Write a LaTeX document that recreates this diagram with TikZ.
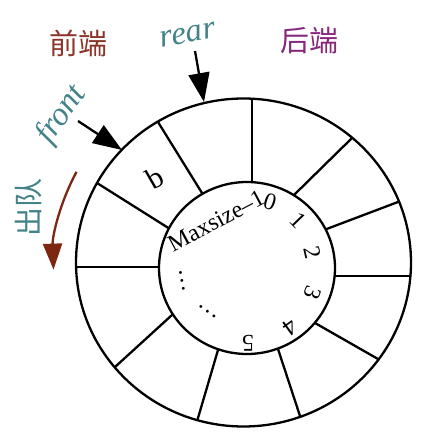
\documentclass[tikz,border=0pt]{standalone}
\usepackage{fontspec}
\setmainfont{Liberation Serif}
\newfontfamily\cjk{Noto Sans CJK SC}
\usetikzlibrary{arrows.meta,calc}
\definecolor{qbrown}{RGB}{140,52,40}
\definecolor{qpurple}{RGB}{135,40,125}
\definecolor{qteal}{RGB}{66,130,136}
\definecolor{qarc}{RGB}{125,38,18}
\tikzset{
  ring/.style={line width=2.3pt, black},
  bigtip/.style={-{Triangle[length=29pt,width=21pt]}},
  cjklabel/.style={font=\cjk\fontsize{29}{29}\selectfont, inner sep=0pt},
  itlabel/.style={font=\itshape\fontsize{33}{33}\selectfont, text=qteal, inner sep=0pt},
  idx/.style={font=\fontsize{24}{24}\selectfont, inner sep=0pt},
}
\begin{document}
\begin{tikzpicture}[x=1pt,y=1pt]
\useasboundingbox (0,0) rectangle (435,437);
\coordinate (O) at (243.5,174.5);
\coordinate (I) at (247,169);
% dividers
\begin{scope}
  \clip (O) ellipse [x radius=167.5, y radius=164];
  \foreach \p/\q in {{252,338}/{252,255}, {158,315}/{202,244}, {97,254}/{170,208},
                     {76,170}/{159,170}, {115,70}/{172,122}, {198,19}/{218,87},
                     {300,21}/{278,88}, {378,78}/{315,114}, {411,161}/{335,161},
                     {398,235}/{324,207}, {351,298}/{294,242}}
    \draw[ring] ($(\p)!-8pt!(\q)$) -- ($(\q)!-8pt!(\p)$);
\end{scope}
\filldraw[ring, fill=white] (I) ellipse [x radius=88, y radius=86];
\draw[ring] (O) ellipse [x radius=167.5, y radius=164];

% top labels
\node[cjklabel, text=qbrown] (front-end) at (78,394) {前端};
\node[cjklabel, text=qpurple] (rear-end) at (309,396) {后端};

% rear pointer
\node[itlabel, rotate=10] (rear) at (188,402) {rear};
\coordinate (rearstart) at (195,386);
\coordinate (reartip) at (204,335);
\draw[ring, bigtip] (rearstart) -- (reartip);

% front pointer
\node[itlabel, rotate=55] (front) at (62,322) {front};
\coordinate (frontstart) at (78,316);
\coordinate (fronttip) at (122,287);
\draw[ring, bigtip] (frontstart) -- (fronttip);

% dequeue arrow
\node[cjklabel, text=qteal, rotate=90] (deq) at (29,229) {出队};
\draw[line width=2.3pt, qarc, -{Triangle[length=26pt,width=19pt]}]
  ($(O)+(151.5:190)$) arc[start angle=151.5, end angle=182, radius=191];

% cell content
\node[font=\fontsize{30}{30}\selectfont, inner sep=0pt, rotate=30] (b) at (155,259) {b};

% indices
\node[idx, rotate=28] (max) at (216,216) {Maxsize–1};
\node[idx, rotate=-18] (i0) at (270,235) {0};
\node[idx, rotate=-46] (i1) at (298,217) {1};
\node[idx, rotate=-77] (i2) at (313,184) {2};
\node[idx, rotate=-111] (i3) at (313,144) {3};
\node[idx, rotate=-144] (i4) at (290,110) {4};
\node[idx, rotate=180] (i5) at (248,94) {5};
\node[idx, rotate=100] (d1) at (182,156) {\dots};
\node[idx, rotate=-36] (d2) at (208,125) {\dots};
\end{tikzpicture}
\end{document}
